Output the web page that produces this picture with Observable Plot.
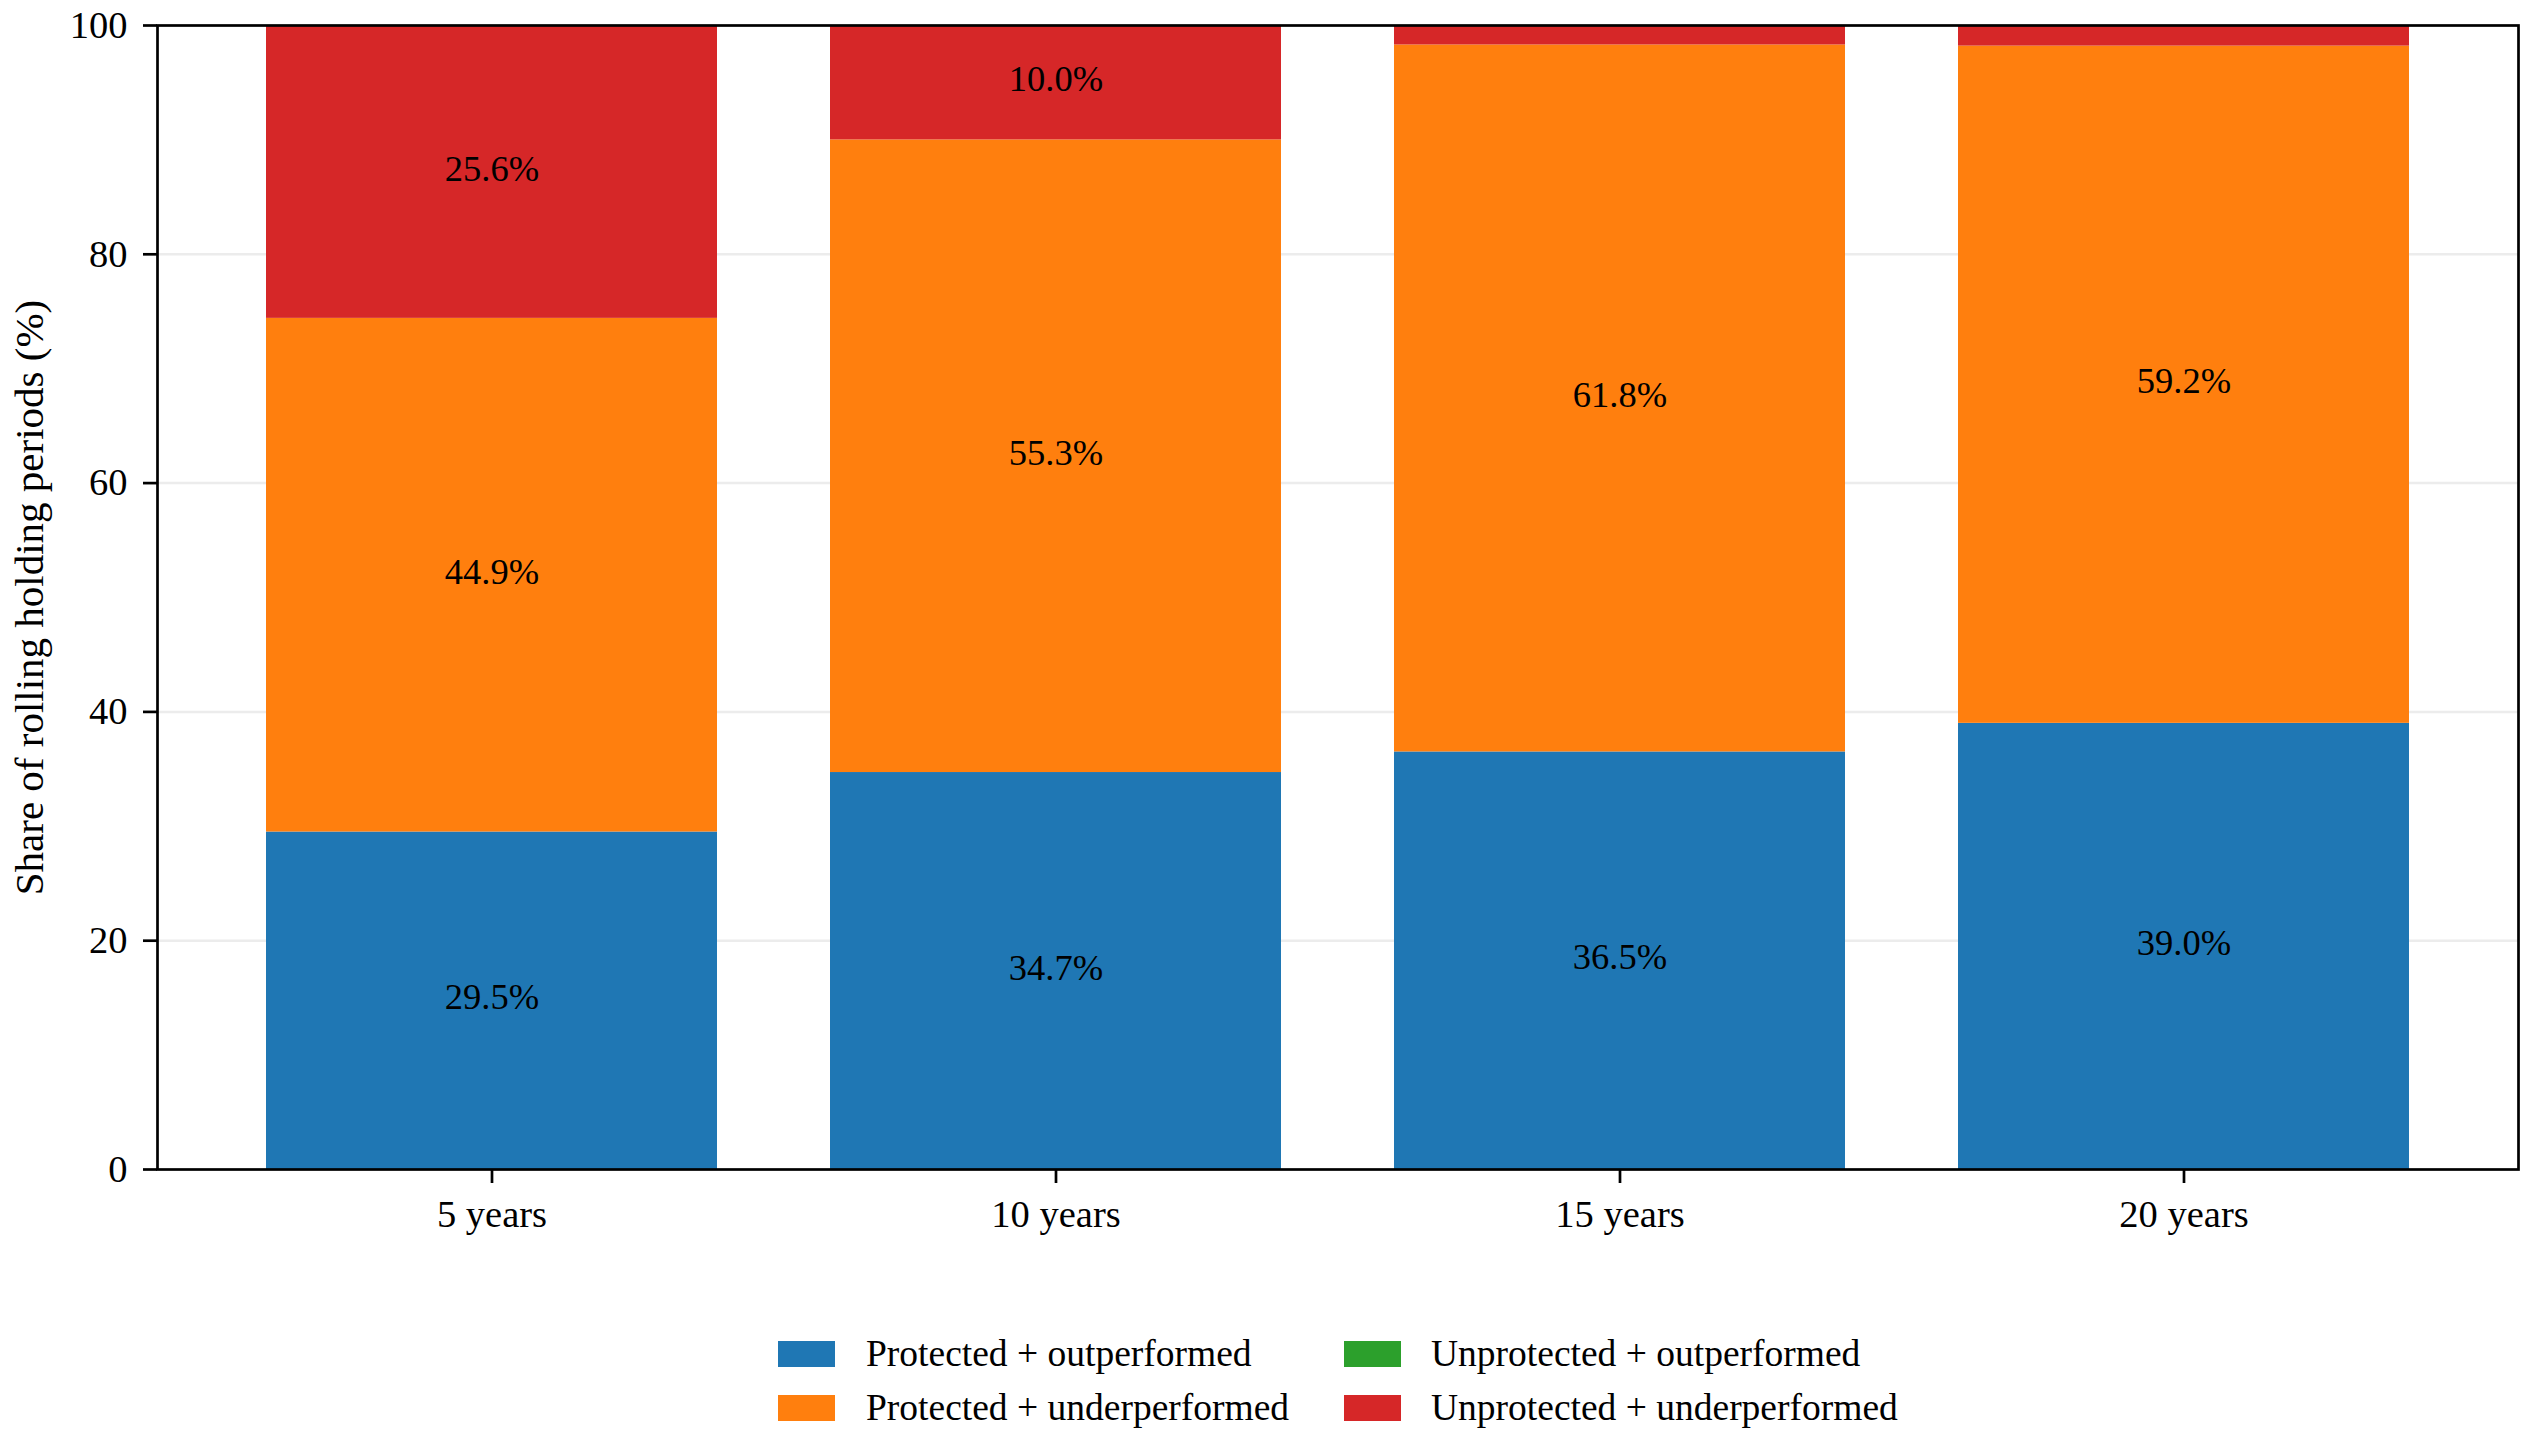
<!DOCTYPE html>
<html>
<head>
<meta charset="utf-8">
<script src="https://cdn.jsdelivr.net/npm/d3@7"></script>
<script src="https://cdn.jsdelivr.net/npm/@observablehq/plot@0.6"></script>
<style>
  html, body { margin: 0; padding: 0; background: white; }
  #wrap { position: relative; width: 2531px; height: 1456px; background: white; font-family: "Liberation Serif", serif; }
  .sw { position: absolute; width: 57px; height: 26px; }
  .lt { position: absolute; font-size: 37.5px; line-height: 1; white-space: nowrap; color: black; transform: translateY(-50%); }
</style>
</head>
<body>
<div id="wrap"></div>
<script>
const periods = ["5 years", "10 years", "15 years", "20 years"];
const categories = [
  "Protected + outperformed",
  "Protected + underperformed",
  "Unprotected + outperformed",
  "Unprotected + underperformed"
];
const colors = ["#1f77b4", "#ff7f0e", "#2ca02c", "#d62728"];
const protectedOutperformed   = [29.5, 34.7, 36.5, 39.0];
const protectedUnderperformed = [44.9, 55.3, 61.8, 59.2];
const unprotectedOutperformed = [0, 0, 0, 0];
const unprotectedUnderperformed = [25.6, 10.0, 1.7, 1.8];
const yTicks = [0, 20, 40, 60, 80, 100];
const yLabel = "Share of rolling holding periods (%)";

const series = [protectedOutperformed, protectedUnderperformed, unprotectedOutperformed, unprotectedUnderperformed];
const data = [];
periods.forEach((p, i) => {
  categories.forEach((c, j) => data.push({period: p, category: c, value: series[j][i]}));
});

const W = 2531, H = 1262;
const chart = Plot.plot({
  width: W,
  height: H,
  marginLeft: 157,
  marginRight: 13,
  marginTop: 25,
  marginBottom: H - 1169,
  style: {fontFamily: "Liberation Serif", fontSize: "38px", background: "white", color: "black"},
  x: {type: "band", domain: periods, paddingInner: 0.2, paddingOuter: 0.19, align: 0.5, label: null},
  y: {domain: [0, 100], label: null},
  color: {domain: categories, range: colors},
  marks: [
    Plot.gridY(yTicks.slice(1, -1), {stroke: "#ececec", strokeOpacity: 1, strokeWidth: 2.5}),
    Plot.barY(data, Plot.stackY({x: "period", y: "value", fill: "category", order: categories})),
    Plot.text(data, Plot.stackY({
      x: "period", y: "value", z: "category", order: categories,
      text: d => d.value >= 3 ? d.value.toFixed(1) + "%" : "",
      fill: "black", fontSize: 36.5, dy: -3
    })),
    Plot.axisY({ticks: yTicks, tickSize: 14, tickPadding: 16, strokeWidth: 2.7, tickFormat: d => String(d),
      label: null, fontSize: 38.5}),
    Plot.text([yLabel], {frameAnchor: "left", rotate: -90, dx: -144, textAnchor: "middle",
      lineAnchor: "top", fontSize: 41, fill: "black"}),
    Plot.axisX({tickSize: 14, tickPadding: 16, strokeWidth: 2.7, fontSize: 38.5, label: null}),
    Plot.frame({stroke: "black", strokeWidth: 2.7})
  ]
});

const wrap = document.getElementById("wrap");
chart.style.position = "absolute";
chart.style.left = "0px";
chart.style.top = "0px";
wrap.appendChild(chart);

// legend (2 columns x 2 rows, column-major)
const legendCols = [778, 1344];
const legendTextCols = [866, 1431];
const legendRows = [1341, 1395];
categories.forEach((c, k) => {
  const col = Math.floor(k / 2), row = k % 2;
  const sw = document.createElement("div");
  sw.className = "sw";
  sw.style.left = legendCols[col] + "px";
  sw.style.top = legendRows[row] + "px";
  sw.style.background = colors[k];
  wrap.appendChild(sw);
  const t = document.createElement("div");
  t.className = "lt";
  t.style.left = legendTextCols[col] + "px";
  t.style.top = (legendRows[row] + 13) + "px";
  t.textContent = c;
  wrap.appendChild(t);
});
</script>
</body>
</html>
